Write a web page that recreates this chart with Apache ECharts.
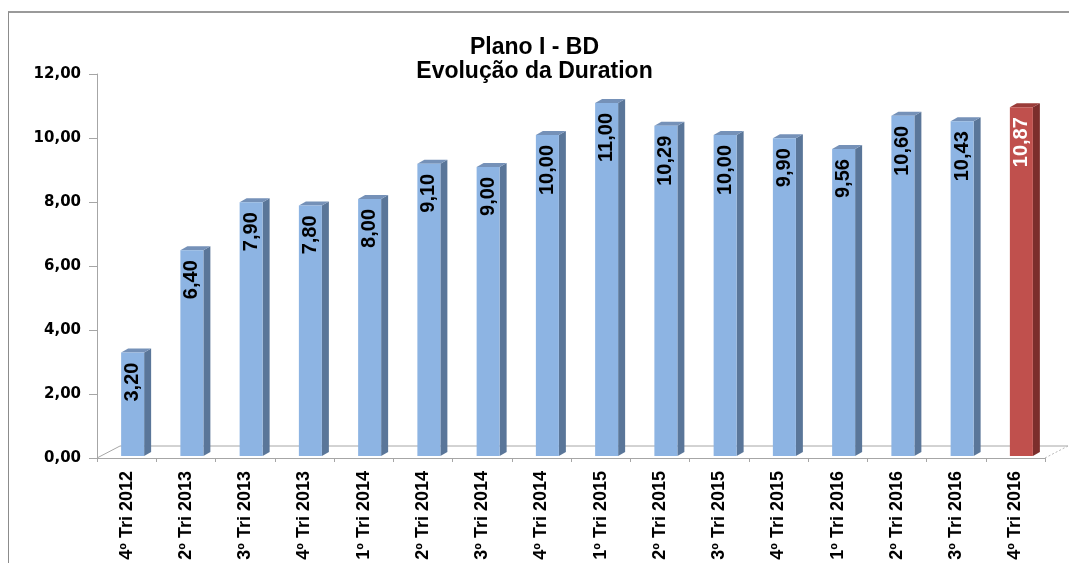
<!DOCTYPE html>
<html>
<head>
<meta charset="utf-8">
<script src="https://cdn.jsdelivr.net/npm/echarts@6/dist/echarts.min.js"></script>
<style>
  html, body { margin: 0; padding: 0; background: #fff; }
  #wrap { position: relative; width: 1069px; height: 563px; overflow: hidden; }
  #frame { position: absolute; left: 8px; top: 11px; width: 1100px; height: 600px;
           border-left: 1px solid #8c8c8c; border-top: 2px solid #9a9a9a; }
  #chart { position: absolute; left: 0; top: 0; width: 1069px; height: 563px; }
</style>
</head>
<body>
<div id="wrap">
  <div id="frame"></div>
  <div id="chart"></div>
</div>
<script>
const categories = [
  '4º Tri 2012', '2º Tri 2013', '3º Tri 2013', '4º Tri 2013', '1º Tri 2014', '2º Tri 2014',
  '3º Tri 2014', '4º Tri 2014', '1º Tri 2015', '2º Tri 2015', '3º Tri 2015', '4º Tri 2015',
  '1º Tri 2016', '2º Tri 2016', '3º Tri 2016', '4º Tri 2016'
]
const durations = [3.20, 6.40, 7.90, 7.80, 8.00, 9.10, 9.00, 10.00, 11.00, 10.29, 10.00, 9.90, 9.56, 10.60, 10.43, 10.87]
const highlighted = '4º Tri 2016'

const yTicks = { min: 0, max: 12, interval: 2 }

const blue = { front: '#8db4e3', side: '#5a7699', top: '#7591b8', text: '#000' }
const red = { front: '#c0504d', side: '#7c2e2c', top: '#9a3c39', text: '#fff' }

const fmt = (v) => v.toFixed(2).replace('.', ',')

const chart = echarts.init(document.getElementById('chart'), null, { renderer: 'canvas' })

// barra "3D": frente + lateral + topo, e o piso no primeiro item
function renderBar(params, api) {
  const idx = api.value(0)
  const val = api.value(1)
  const base = api.coord([idx, 0])
  const top = api.coord([idx, val])
  const cs = params.coordSys
  const tone = categories[idx] === highlighted ? red : blue

  const w = 23, dx = 7, dy = 4, lift = 3
  const x0 = base[0] + 6 - w / 2
  const yb = base[1] - 2
  const yt = top[1] - lift
  const children = []

  if (params.dataIndex === 0) {
    const fx0 = cs.x, fx1 = cs.x + cs.width, fy = cs.y + cs.height
    const fdx = 23, fdy = 12
    const floor = { stroke: '#a6a6a6', lineWidth: 1 }
    children.push(
      { type: 'line', shape: { x1: fx0, y1: fy, x2: fx0 + fdx, y2: fy - fdy }, style: floor },
      { type: 'line', shape: { x1: fx0 + fdx, y1: fy - fdy, x2: fx1 + fdx, y2: fy - fdy }, style: floor },
      { type: 'line', shape: { x1: fx1, y1: fy, x2: fx1 + fdx, y2: fy - fdy }, style: { stroke: '#b8b8b8', lineWidth: 1, lineDash: [2, 2] } }
    )
  }

  children.push(
    { type: 'polygon', shape: { points: [[x0 + w, yb], [x0 + w + dx, yb - dy], [x0 + w + dx, yt - dy], [x0 + w, yt]] },
      style: { fill: tone.side } },
    { type: 'polygon', shape: { points: [[x0, yt], [x0 + dx, yt - dy], [x0 + w + dx, yt - dy], [x0 + w, yt]] },
      style: { fill: tone.top } },
    { type: 'rect', shape: { x: x0, y: yt, width: w, height: yb - yt }, style: { fill: tone.front } },
    { type: 'text', x: x0 + w / 2, y: yt + 10, rotation: Math.PI / 2,
      style: { text: fmt(val), fill: tone.text, align: 'right', verticalAlign: 'middle',
               font: 'bold 20px "Liberation Sans", Arial, sans-serif' } }
  )
  return { type: 'group', children }
}

chart.setOption({
  animation: false,
  title: {
    text: 'Plano I - BD\nEvolução da Duration',
    left: 'center',
    top: 31,
    textStyle: { fontFamily: 'Liberation Sans', fontWeight: 'bold', fontSize: 23, lineHeight: 24, color: '#000' }
  },
  grid: { left: 97, right: 24, top: 74, bottom: 105 },
  xAxis: {
    type: 'category',
    data: categories,
    axisLine: { lineStyle: { color: '#a6a6a6', width: 1 } },
    axisTick: { show: true, length: 4, lineStyle: { color: '#a6a6a6' } },
    axisLabel: {
      rotate: 90, interval: 0, margin: 13, color: '#000',
      fontFamily: 'Liberation Sans', fontWeight: 'bold', fontSize: 18
    }
  },
  yAxis: {
    type: 'value',
    min: yTicks.min, max: yTicks.max, interval: yTicks.interval,
    axisLine: { show: true, lineStyle: { color: '#a6a6a6' } },
    axisTick: { show: true, length: 8, lineStyle: { color: '#a6a6a6' } },
    splitLine: { show: false },
    axisLabel: {
      color: '#000', margin: 16, fontFamily: 'DejaVu Sans', fontWeight: 'bold', fontSize: 15,
      formatter: (v) => fmt(v)
    }
  },
  series: [{
    type: 'custom',
    renderItem: renderBar,
    encode: { x: 0, y: 1 },
    data: durations.map((v, i) => [i, v]),
    clip: false
  }]
})
</script>
</body>
</html>
